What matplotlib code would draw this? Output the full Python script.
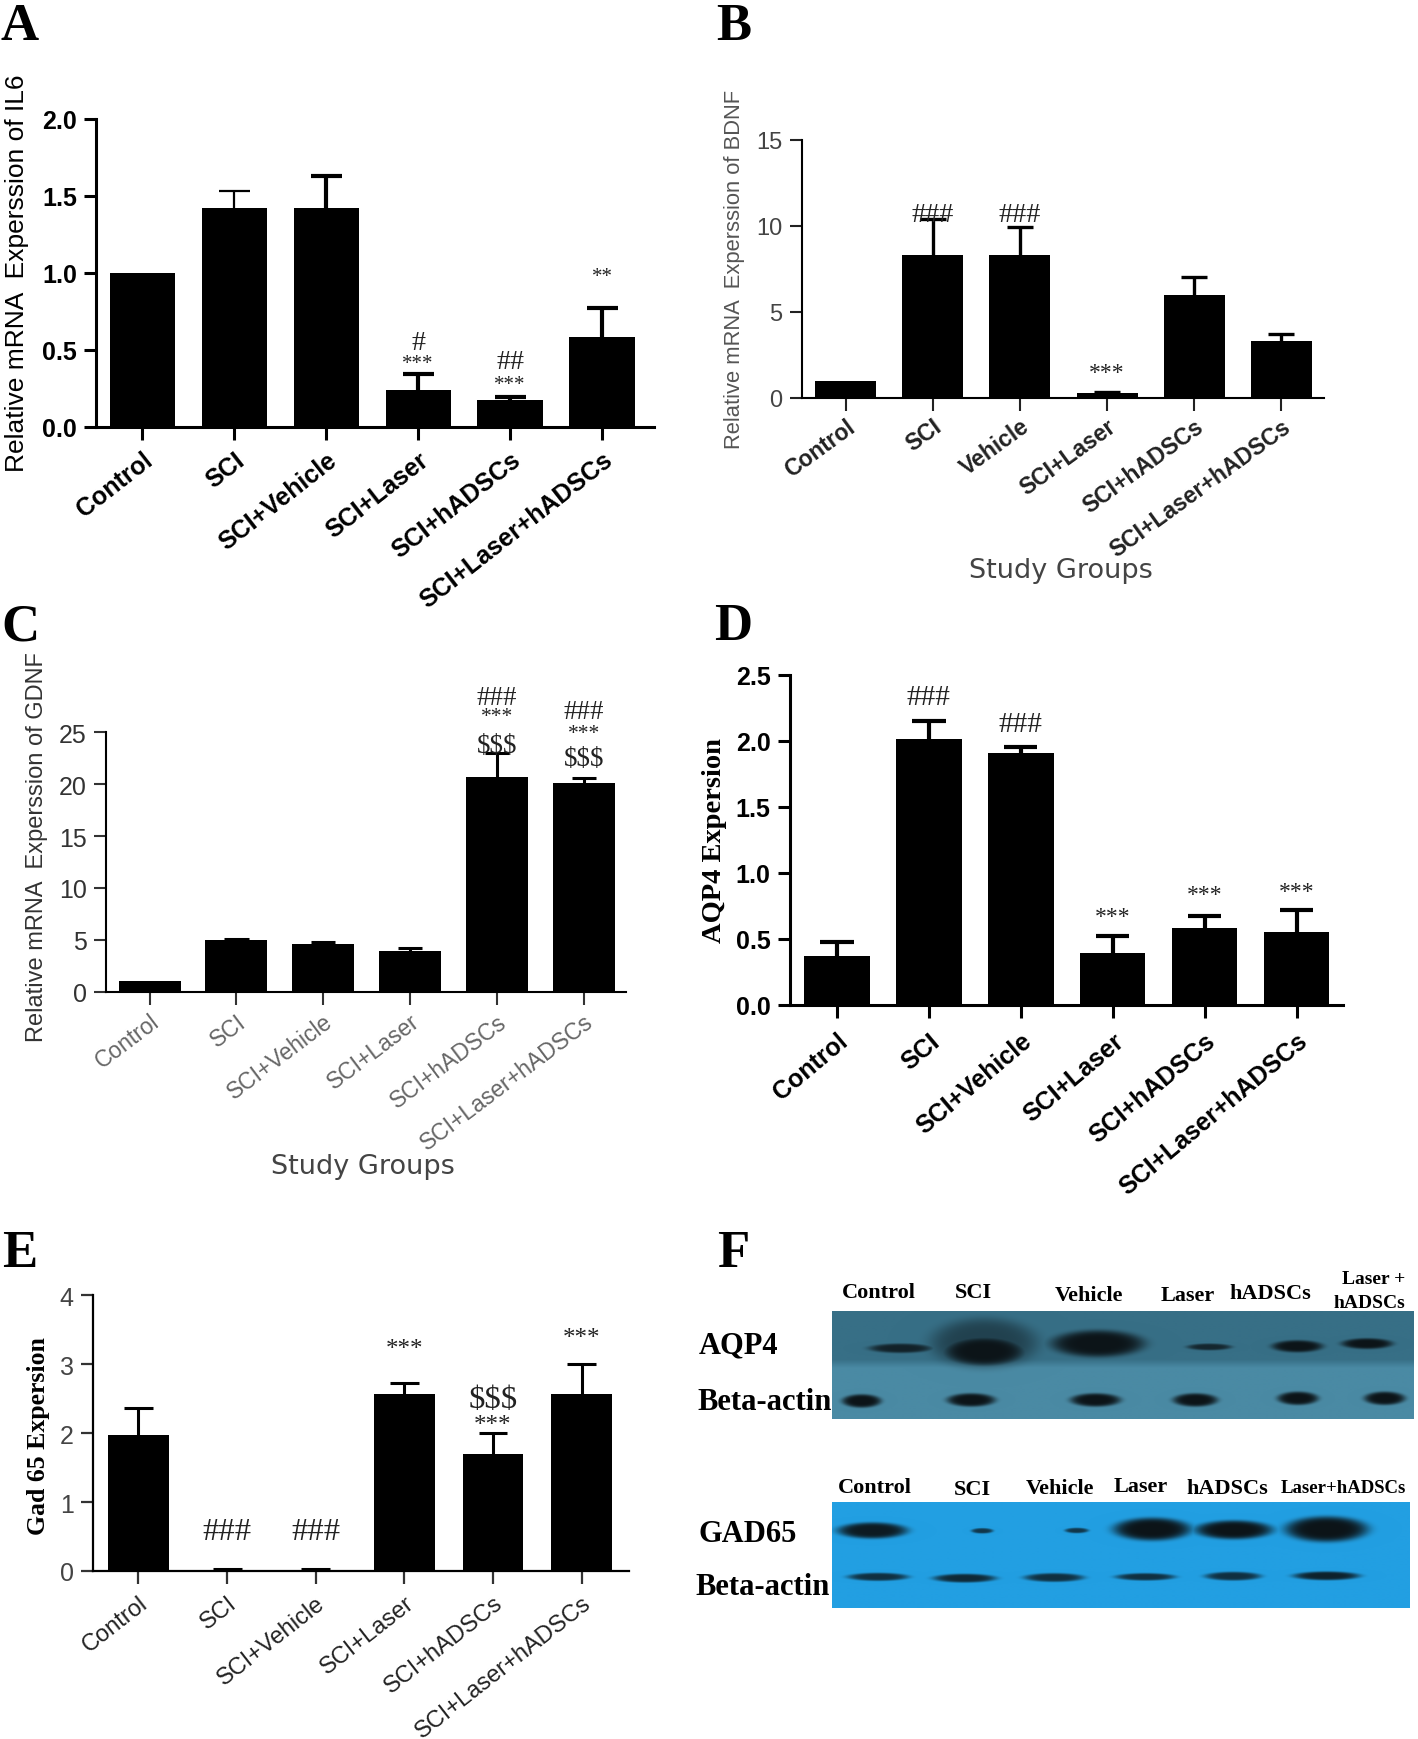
import numpy as np
import matplotlib
matplotlib.use('Agg')
import matplotlib.pyplot as plt

W, H = 1418, 1740
S = 1418 / 1280  # coordinates below were read at 1280 wide
SERIF = 'Liberation Serif'
SANS = 'Liberation Sans'

groups_long = ['Control', 'SCI', 'SCI+Vehicle', 'SCI+Laser', 'SCI+hADSCs', 'SCI+Laser+hADSCs']
groups_b = ['Control', 'SCI', 'Vehicle', 'SCI+Laser', 'SCI+hADSCs', 'SCI+Laser+hADSCs']

il6_mean = [1.0, 1.42, 1.42, 0.24, 0.17, 0.58]
il6_top = [1.0, 1.53, 1.63, 0.34, 0.19, 0.77]
il6_marks = [(3, 0.575, '#'), (3, 0.44, '***'), (4, 0.45, '##'), (4, 0.30, '***'), (5, 1.0, '**')]

bdnf_mean = [1.0, 8.3, 8.3, 0.3, 6.0, 3.3]
bdnf_top = [1.0, 10.4, 9.9, 0.35, 7.0, 3.7]
bdnf_marks = [(1, 10.9, '###'), (2, 10.9, '###'), (3, 1.7, '***')]

gdnf_mean = [1.0, 5.0, 4.6, 3.9, 20.7, 20.1]
gdnf_top = [1.0, 5.1, 4.8, 4.2, 23.0, 20.6]
gdnf_marks = [(4, 28.8, '###'), (4, 26.9, '***'), (4, 24.1, '$$$'),
              (5, 27.4, '###'), (5, 25.3, '***'), (5, 22.9, '$$$')]

aqp4_mean = [0.37, 2.01, 1.91, 0.39, 0.58, 0.55]
aqp4_top = [0.48, 2.15, 1.95, 0.52, 0.67, 0.72]
aqp4_marks = [(1, 2.36, '###'), (2, 2.16, '###'), (3, 0.70, '***'), (4, 0.87, '***'), (5, 0.89, '***')]

gad_mean = [1.97, 0.02, 0.02, 2.56, 1.70, 2.57]
gad_top = [2.36, 0.03, 0.03, 2.73, 2.00, 3.00]
gad_marks = [(1, 0.63, '###'), (2, 0.63, '###'), (3, 3.28, '***'), (4, 2.54, '$$$'),
             (4, 2.18, '***'), (5, 3.44, '***')]

aqp4_bands = [(455, 68, 366, 14, .85), (635, 115, 350, 75, .5), (635, 88, 375, 44, 1.0),
              (880, 100, 352, 40, 1.0), (1120, 48, 362, 10, .8), (1310, 55, 360, 18, 1.0),
              (1460, 55, 352, 16, 1.0), (371, 42, 525, 20, 1.0), (607, 52, 522, 20, 1.0),
              (875, 54, 522, 20, 1.0), (1090, 48, 522, 20, 1.0), (1311, 44, 517, 20, 1.0),
              (1498, 44, 517, 20, 1.0)]
gad_bands = [(395, 76, 914, 24, .95), (633, 24, 915, 8, .75), (838, 26, 914, 8, .75),
             (1002, 84, 910, 34, 1.0), (1179, 84, 912, 28, 1.0), (1380, 90, 910, 38, 1.0),
             (407, 66, 1053, 12, .8), (595, 68, 1057, 13, .85), (789, 65, 1055, 13, .8),
             (987, 65, 1053, 11, .8), (1177, 61, 1051, 13, .8), (1380, 72, 1050, 13, .9)]


def px_axes(fig, left, top, right, bottom):
    return fig.add_axes([left / 1280, 1 - bottom * S / H, (right - left) / 1280, (bottom - top) * S / H])


def fig_text(fig, x, y, s, **kw):
    kw.setdefault('ha', 'center')
    kw.setdefault('va', 'center')
    fig.text(x / 1280, 1 - y * S / H, s, **kw)


def bar_panel(fig, box, c0, step, bar_w, means, tops, marks, labels, ymax, yticks, ytick_fmt,
              ink='black', tick_font=None, ytick_font=None, mark_size=17, hash_scale=1.0, err_lw=3.0,
              cap=14, axis_lw=2.2, rot=40, pad=5):
    left, top, right, bottom = box
    ax = px_axes(fig, left, top, right, bottom)
    x = np.arange(len(means))
    means = np.array(means)
    tops = np.array(tops)
    ax.bar(x, means, width=bar_w / step, color='black', zorder=2)
    # upper whisker only, no cap sitting on the bar, nothing where the bar has no error
    has_err = tops > means
    lws = np.broadcast_to(err_lw, x.shape)[has_err]
    ax.vlines(x[has_err], means[has_err], tops[has_err], color='black', lw=lws, zorder=1)
    ax.hlines(tops[has_err], x[has_err] - cap / step, x[has_err] + cap / step, color='black', lw=lws, zorder=1)
    ax.set_xlim((left - c0) / step, (right - c0) / step)
    ax.set_ylim(0, ymax)
    ax.patch.set_alpha(0)
    for side in ['top', 'right']:
        ax.spines[side].set_visible(False)
    for side in ['left', 'bottom']:
        ax.spines[side].set_linewidth(axis_lw)
    ax.set_xticks(x)
    ax.set_yticks(yticks)
    ax.set_yticklabels([ytick_fmt % t for t in yticks])
    tf = dict(family=SANS, fontweight='bold', fontsize=18, color=ink)
    if tick_font:
        tf.update(tick_font)
    ax.set_xticklabels(labels, rotation=rot, ha='right', va='top', rotation_mode='anchor', **tf)
    yf = dict(tf)
    if ytick_font:
        yf.update(ytick_font)
    for t in ax.get_yticklabels():
        t.set(**yf)
    ax.tick_params(axis='both', width=axis_lw, length=9, color=ink, pad=5)
    ax.tick_params(axis='x', pad=pad)
    for i, y, s in marks:
        fs = mark_size if s[0] == '*' else mark_size * hash_scale
        ax.annotate(s, (i, y), xytext=(0, -3), textcoords='offset points', ha='center', va='center',
                    family=SERIF, fontsize=fs, color='#222222', annotation_clip=False)
    return ax


def blot(fig, box, bands, base, x0, x1, y0, y1, stripe=None):
    left, top, right, bottom = box
    ax = px_axes(fig, left, top, right, bottom)
    xs = np.linspace(x0, x1, int((right - left) * S))
    ys = np.linspace(y0, y1, int((bottom - top) * S))
    xx, yy = np.meshgrid(xs, ys)
    m = np.zeros_like(xx)
    for cx, hw, cy, hh, dark in bands:
        d = ((xx - cx) / hw) ** 2 + ((yy - cy) / hh) ** 2
        m = np.maximum(m, dark * np.exp(-d ** 3))
    bg = np.ones(xx.shape + (3,)) * np.array(matplotlib.colors.to_rgb(base))
    if stripe:
        ya, yb, col = stripe
        edge = np.clip((yb - yy) / 25, 0, 1)[..., None]
        bg = bg * (1 - edge) + np.array(matplotlib.colors.to_rgb(col)) * edge
    ink = np.array(matplotlib.colors.to_rgb('#0c1418'))
    img = bg * (1 - m[..., None]) + ink * m[..., None]
    ax.imshow(img, aspect='auto', interpolation='bilinear')
    ax.axis('off')


fig = plt.figure(figsize=(W / 100, H / 100), dpi=100, facecolor='white')

for letter, x, y in [('A', 18, 24), ('B', 662, 24), ('C', 18, 566), ('D', 662, 566), ('E', 18, 1132), ('F', 662, 1132)]:
    fig_text(fig, x, y, letter, family=SERIF, fontweight='bold', fontsize=38)

# A
bar_panel(fig, (87, 108, 590, 386), 128.5, 83, 59, il6_mean, il6_top, il6_marks, groups_long,
          2.0, [0, 0.5, 1.0, 1.5, 2.0], '%.1f', mark_size=15, hash_scale=1.35, rot=38, pad=6,
          err_lw=[3, 1.6, 3, 3, 3, 3])
fig_text(fig, 15, 247, 'Relative mRNA  Experssion of IL6', family=SANS, fontsize=19, rotation=90)

# B
tick_b = dict(family=SANS, fontsize=16.5, fontweight='bold', color='#222222')
ytick_b = dict(fontweight='normal', fontsize=17, color='#444444')
bar_panel(fig, (724, 127, 1195, 360), 763.5, 78.6, 55, bdnf_mean, bdnf_top, bdnf_marks, groups_b,
          15, [0, 5, 10, 15], '%d', tick_font=tick_b, ytick_font=ytick_b, err_lw=2.4, axis_lw=1.5,
          ink='#222222', mark_size=17, hash_scale=1.2, rot=36, pad=3, cap=12)
fig_text(fig, 663, 243, 'Relative mRNA  Experssion of BDNF', family=SANS, fontsize=15.8,
         rotation=90, color='#555555')
fig_text(fig, 958, 515, 'Study Groups', family='DejaVu Sans', fontsize=19.5, color='#444444')

# C
tick_c = dict(family=SANS, fontsize=16.5, fontweight='normal', color='#666666')
ytick_c = dict(fontsize=18, color='#333333')
bar_panel(fig, (96, 662, 565, 896), 135, 78.4, 56, gdnf_mean, gdnf_top, gdnf_marks, groups_long,
          25, [0, 5, 10, 15, 20, 25], '%d', tick_font=tick_c, ytick_font=ytick_c, err_lw=2.2, cap=11,
          axis_lw=1.5, ink='#333333', mark_size=15.5, hash_scale=1.25, rot=37, pad=4)
fig_text(fig, 33, 765, 'Relative mRNA  Experssion of GDNF', family=SANS, fontsize=17, rotation=90, color='#333333')
fig_text(fig, 328, 1053, 'Study Groups', family='DejaVu Sans', fontsize=19.5, color='#444444')

# D
bar_panel(fig, (713, 610, 1212, 908), 755.5, 83, 59, aqp4_mean, aqp4_top, aqp4_marks, groups_long,
          2.5, [0, 0.5, 1.0, 1.5, 2.0, 2.5], '%.1f', mark_size=17, hash_scale=1.25, pad=8, cap=15)
fig_text(fig, 645, 759, 'AQP4 Expersion', family=SERIF, fontweight='bold', fontsize=20.5, rotation=90)

# E
tick_e = dict(family=SANS, fontsize=17, fontweight='normal', color='#222222')
ytick_e = dict(fontsize=18, color='#444444')
bar_panel(fig, (84, 1170, 568, 1419), 125, 80, 55, gad_mean, gad_top, gad_marks, groups_long,
          4, [0, 1, 2, 3, 4], '%d', tick_font=tick_e, ytick_font=ytick_e, err_lw=2.2, cap=13, axis_lw=1.6,
          ink='#333333', mark_size=18, hash_scale=1.3, rot=38, pad=6)
fig_text(fig, 35, 1296, 'Gad 65 Expersion', family=SERIF, fontweight='bold', fontsize=18.5, rotation=90)

# F
blot(fig, (751, 1184, 1276, 1282), aqp4_bands, '#4a8aa4', 308, 1560, 252, 578, stripe=(252, 425, '#376f86'))
blot(fig, (751, 1357, 1272, 1452), gad_bands, '#229fe2', 308, 1560, 830, 1145)

top_labels = [(793, 1167, 'Control'), (879, 1167, 'SCI'), (983, 1170, 'Vehicle'), (1072, 1170, 'Laser'),
              (1147, 1168, 'hADSCs')]
for x, y, s in top_labels:
    fig_text(fig, x, y, s, family=SERIF, fontweight='bold', fontsize=16)
fig_text(fig, 1240, 1155, 'Laser +', family=SERIF, fontweight='bold', fontsize=14)
fig_text(fig, 1236, 1177, 'hADSCs', family=SERIF, fontweight='bold', fontsize=14)
low_labels = [(790, 1343, 'Control'), (878, 1345, 'SCI'), (957, 1344, 'Vehicle'), (1030, 1342, 'Laser'),
              (1108, 1344, 'hADSCs')]
for x, y, s in low_labels:
    fig_text(fig, x, y, s, family=SERIF, fontweight='bold', fontsize=16)
fig_text(fig, 1213, 1344, 'Laser+hADSCs', family=SERIF, fontweight='bold', fontsize=13.5)
for x, y, s in [(667, 1215, 'AQP4'), (690, 1266, 'Beta-actin'), (675, 1385, 'GAD65'), (688, 1433, 'Beta-actin')]:
    fig_text(fig, x, y, s, family=SERIF, fontweight='bold', fontsize=22)

fig.savefig('out.png', dpi=100)
